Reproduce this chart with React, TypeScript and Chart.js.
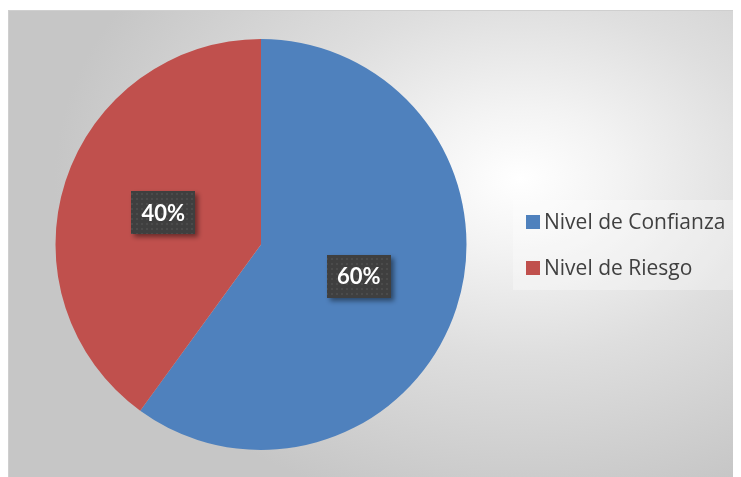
import React, { useEffect, useRef } from "react";
import { Chart, registerables } from "chart.js";

Chart.register(...registerables);

const categories = ["Nivel de Confianza", "Nivel de Riesgo"];
const values = [60, 40];
const valueLabels = ["60%", "40%"];
const colors = ["#4F81BD", "#C0504D"];

export default function App() {
  const ref = useRef<HTMLCanvasElement>(null);

  useEffect(() => {
    const canvas = ref.current!;
    const tile = document.createElement("canvas");
    tile.width = 5;
    tile.height = 5;
    const tctx = tile.getContext("2d")!;
    tctx.fillStyle = "#3f3f3f";
    tctx.fillRect(0, 0, 5, 5);
    tctx.fillStyle = "#4b4b4b";
    tctx.fillRect(2, 2, 2, 2);

    const valueBoxes = {
      id: "valueBoxes",
      afterDatasetsDraw(chart: any) {
        const ctx = chart.ctx as CanvasRenderingContext2D;
        const pattern = ctx.createPattern(tile, "repeat")!;
        const meta = chart.getDatasetMeta(0);
        meta.data.forEach((arc: any, i: number) => {
          const p = arc.getProps(["x", "y", "startAngle", "endAngle", "outerRadius"], true);
          const mid = (p.startAngle + p.endAngle) / 2;
          const d = p.outerRadius * 0.5;
          const cx = p.x + Math.cos(mid) * d;
          const cy = p.y + Math.sin(mid) * d;
          const w = 64;
          const h = 43;
          ctx.save();
          ctx.shadowColor = "rgba(0,0,0,0.45)";
          ctx.shadowBlur = 5;
          ctx.shadowOffsetX = 3;
          ctx.shadowOffsetY = 3;
          ctx.fillStyle = pattern;
          ctx.fillRect(Math.round(cx - w / 2), Math.round(cy - h / 2), w, h);
          ctx.restore();
          ctx.save();
          ctx.fillStyle = "#ffffff";
          ctx.font = "bold 22px Lato";
          ctx.textAlign = "center";
          ctx.textBaseline = "middle";
          ctx.fillText(valueLabels[i], cx, cy + 1);
          ctx.restore();
        });
      },
    };

    const sideLegend = {
      id: "sideLegend",
      afterDraw(chart: any) {
        const ctx = chart.ctx as CanvasRenderingContext2D;
        const ca = chart.chartArea;
        const labels: string[] = chart.data.labels;
        const bg: string[] = chart.data.datasets[0].backgroundColor;
        const left = ca.right + 46;
        const width = 222;
        const rowH = 46;
        const boxH = labels.length * rowH - 2;
        const cy = (ca.top + ca.bottom) / 2;
        const top = Math.round(cy - boxH / 2);
        ctx.save();
        ctx.fillStyle = "rgba(255,255,255,0.3)";
        ctx.fillRect(left, top, width, boxH);
        ctx.font = "21px 'Open Sans'";
        ctx.textBaseline = "middle";
        labels.forEach((lab, i) => {
          const my = top + 22 + i * rowH;
          ctx.fillStyle = bg[i];
          ctx.fillRect(left + 13, Math.round(my - 7), 14, 14);
          ctx.fillStyle = "#404040";
          ctx.fillText(lab, left + 31, my + 1);
        });
        ctx.restore();
      },
    };

    const chart = new Chart(canvas, {
      type: "pie",
      data: {
        labels: categories,
        datasets: [
          {
            data: values,
            backgroundColor: colors,
            borderWidth: 0,
          },
        ],
      },
      options: {
        animation: false,
        responsive: true,
        maintainAspectRatio: false,
        layout: { padding: { left: 46, right: 272, top: 28, bottom: 27 } },
        plugins: {
          tooltip: { enabled: false },
          legend: { display: false },
        },
      },
      plugins: [valueBoxes, sideLegend],
    });
    return () => chart.destroy();
  }, []);

  return (
    <div
      style={{
        position: "relative",
        width: 730,
        height: 466,
        marginTop: 2,
        border: "1px solid #cfcfcf",
        background:
          "radial-gradient(ellipse 75% 85% at 70% 36%, #ffffff 0%, #f3f3f3 18%, #dedede 45%, #c6c6c6 85%)",
      }}
    >
      <canvas ref={ref} />
    </div>
  );
}
